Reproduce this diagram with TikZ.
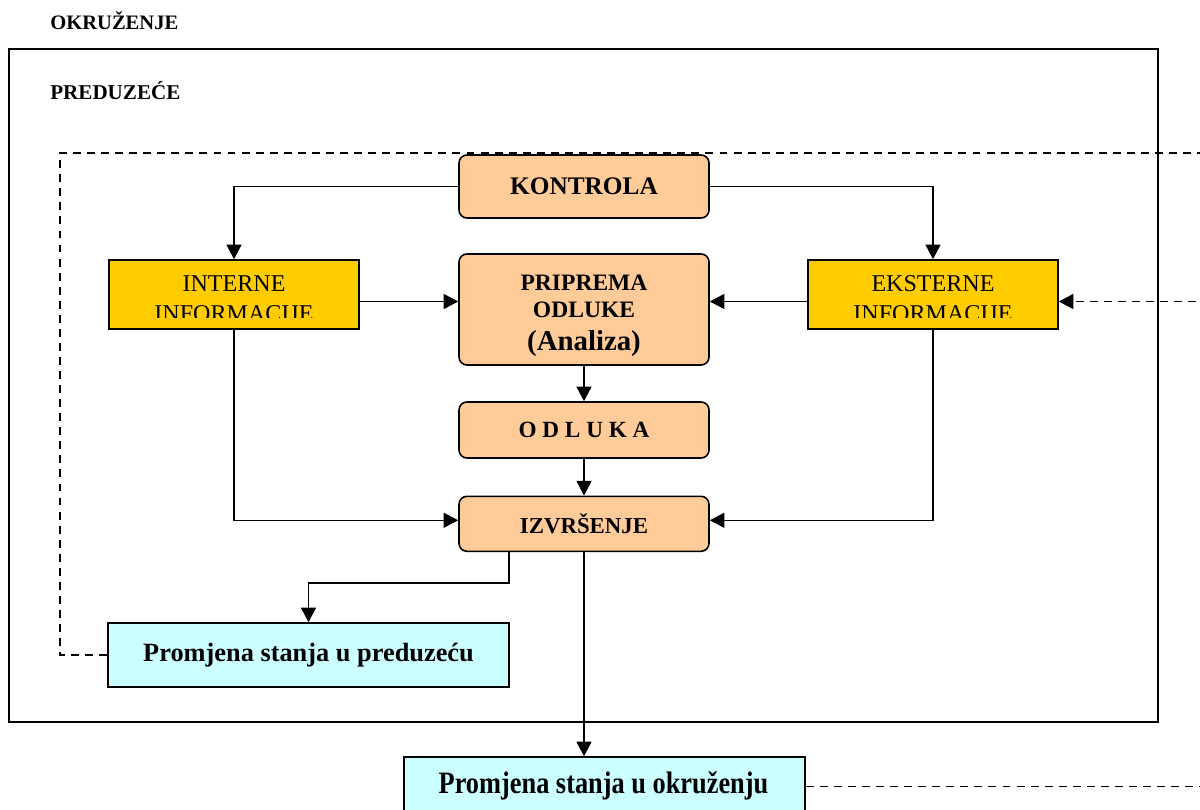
\documentclass[tikz,border=0pt]{standalone}
\usepackage{fontspec}
\setmainfont{Liberation Serif}
\usepackage{graphicx}
\usetikzlibrary{arrows.meta}
\definecolor{peach}{HTML}{FFCC99}
\definecolor{gold}{HTML}{FFCC00}
\definecolor{lcyan}{HTML}{CCFFFF}
\tikzset{
  box/.style={draw, line width=0.9pt, inner sep=0pt, align=center, text=black},
  stage/.style={box, fill=peach, rounded corners=4.5pt, minimum width=5cm},
  info/.style={box, fill=gold, minimum width=5cm, minimum height=1.38cm},
  infotext/.style={inner sep=0pt, align=center, font=\fontsize{13.7pt}{17pt}\selectfont},
  change/.style={box, fill=lcyan, minimum width=8.02cm, minimum height=1.28cm},
  frame/.style={draw, line width=0.95pt, inner sep=0pt},
  arr/.style={line width=0.85pt, -{Triangle[length=8.3pt,width=8.5pt]}},
  fb/.style={line width=0.95pt, dash pattern=on 4.5pt off 3.5pt},
}
\begin{document}
\begin{tikzpicture}[x=0.02cm,y=-0.02cm]
\clip (0,0) rectangle (1200,810);
\fill[white] (0,0) rectangle (1200,810);

% environment frame and labels
\node[frame, minimum width=22.98cm, minimum height=13.46cm] (okolina) at (583.5,385.5) {};
\node[anchor=base west, inner sep=0pt, font=\fontsize{11.7pt}{14pt}\selectfont\bfseries] (lblokr) at (50,29.5) {OKRUŽENJE};
\node[anchor=base west, inner sep=0pt, font=\fontsize{12pt}{14pt}\selectfont\bfseries] (lblpred) at (50,99.5) {PREDUZEĆE};

% central stages
\node[stage, minimum height=1.26cm, font=\fontsize{14.4pt}{17pt}\selectfont\bfseries] (kontrola) at (584,186.5) {KONTROLA};
\node[stage, minimum height=2.22cm] (priprema) at (584,309.5) {};
\node[inner sep=0pt, align=center, font=\fontsize{13.4pt}{15.5pt}\selectfont\bfseries] (priprematxt) at ([yshift=-0.12cm]priprema.center)
  {PRIPREMA\\ODLUKE\\[3pt]{\fontsize{16.4pt}{18pt}\selectfont (Analiza)}};
\node[stage, minimum height=1.12cm, font=\fontsize{13.2pt}{15pt}\selectfont\bfseries] (odluka) at (584,430) {O D L U K A};
\node[stage, minimum height=1.1cm, font=\fontsize{13pt}{15pt}\selectfont\bfseries] (izvrsenje) at (584,523.8) {IZVRŠENJE};

% information boxes (text clipped as in the original)
\node[info] (interne) at (234,294.5) {};
\begin{scope}
  \clip (interne.north west) rectangle ([yshift=0.24cm]interne.south east);
  \node[infotext, anchor=base] (internetxt) at (234,321.7) {INTERNE\\INFORMACIJE};
\end{scope}
\node[info] (eksterne) at (933,294.5) {};
\begin{scope}
  \clip (eksterne.north west) rectangle ([yshift=0.24cm]eksterne.south east);
  \node[infotext, anchor=base] (eksternetxt) at (933,321.7) {EKSTERNE\\INFORMACIJE};
\end{scope}

% change boxes
\node[change, font=\fontsize{15pt}{17pt}\selectfont\bfseries] (predu) at (308.5,655) {Promjena stanja u preduzeću};
\node[change] (okruz) at (604.5,789) {};
\node[anchor=base, inner sep=0pt, font=\fontsize{15pt}{17pt}\selectfont\bfseries] (okruztxt) at (603.5,793)
  {\scalebox{1}[1.18]{Promjena stanja u okruženju}};

% helper coordinates
\coordinate (split) at (509,583);
\coordinate (fbl) at (60,655);
\coordinate (ftl) at (60,153);
\coordinate (ftr) at (1210,153);
\coordinate (fin) at (1210,301.5);
\coordinate (fout) at (1210,786.5);

% connectors
\draw[arr] (kontrola.west) -| (interne.north);
\draw[arr] (kontrola.east) -| (eksterne.north);
\draw[arr] ([yshift=-0.14cm]interne.east) -- ([yshift=-0.14cm]interne.east -| priprema.west);
\draw[arr] ([yshift=-0.14cm]eksterne.west) -- ([yshift=-0.14cm]eksterne.west -| priprema.east);
\draw[arr] (priprema.south) -- (odluka.north);
\draw[arr] (odluka.south) -- (izvrsenje.north);
\draw[arr] (interne.south) |- ([yshift=0.07cm]izvrsenje.west);
\draw[arr] (eksterne.south) |- ([yshift=0.07cm]izvrsenje.east);
\draw[arr] (izvrsenje.south -| split) -- (split) -| (predu.north);
\draw[arr] (izvrsenje.south) -- (izvrsenje.south |- okruz.north);

% feedback (dashed)
\draw[fb] (predu.west) -- (fbl) -- (ftl) -- (ftr);
\draw[fb, arr] (fin) -- (fin -| eksterne.east);
\draw[fb] (fout -| okruz.east) -- (fout);
\end{tikzpicture}
\end{document}
